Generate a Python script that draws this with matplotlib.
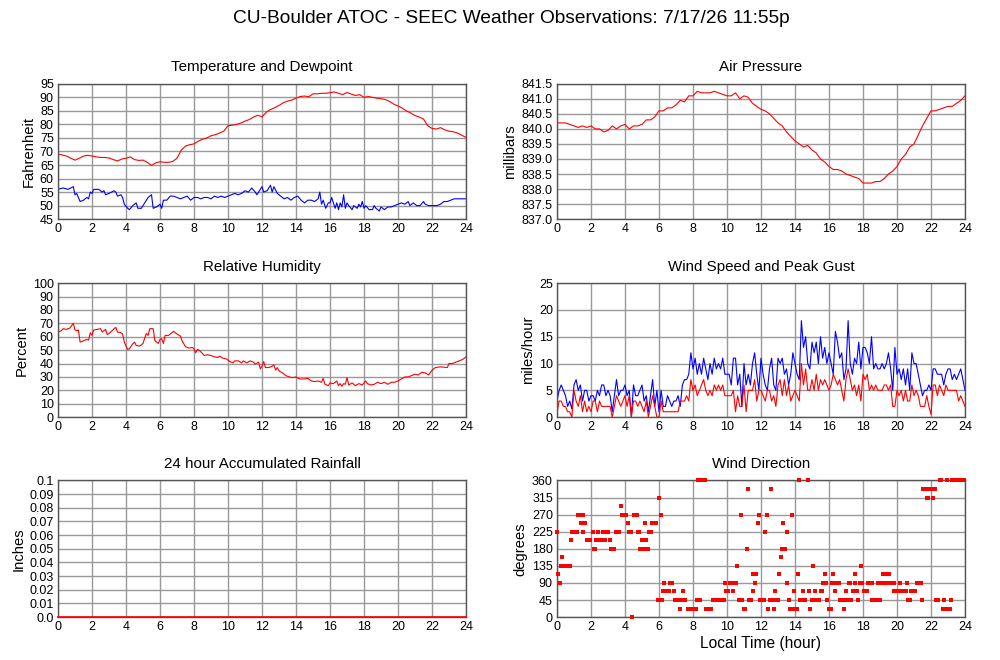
import numpy as np
import matplotlib
matplotlib.use("Agg")
import matplotlib.pyplot as plt

plt.rcParams['font.family'] = ['Liberation Sans', 'DejaVu Sans']

# ---- data ----
# temperature, every 15 minutes
temp_f = [69, 68.7, 68.3, 67.5, 66.8, 67.5, 68.3, 68.6, 68.3, 68, 67.8, 67.8,
          67.6, 67, 66.5, 67.2, 67.5, 68, 67, 66.7, 66.8, 66, 64.8, 65.8,
          66.2, 66, 66, 66.3, 67.5, 70.5, 72, 72.5, 72.8, 73.8, 74.5, 75,
          75.8, 76.2, 76.8, 77.5, 79.5, 79.7, 80, 80.5, 81.2, 81.8, 82.7, 83.4,
          82.8, 84.5, 85.5, 86.2, 87, 88, 88.6, 89, 89.7, 90.3, 90.5, 90.2,
          91.3, 91.3, 91.5, 91.5, 91.7, 92, 91.5, 91, 91.8, 91.2, 90.7, 91,
          90, 90.3, 90, 89.7, 89.5, 89.2, 88.5, 87.5, 86.8, 86, 85, 84.2,
          83.3, 82.7, 82, 79.5, 78.5, 78.3, 78.8, 78, 77.5, 77.3, 76.8, 76,
          75.2]

dewpoint = [(0, 56), (0.3, 56.5), (0.6, 56), (0.9, 57), (1.0, 54), (1.1, 54.5),
            (1.2, 53), (1.3, 51.5), (1.5, 52), (1.7, 53), (1.8, 52.5), (1.9, 55),
            (2.0, 54.5), (2.1, 56), (2.4, 56), (2.6, 55), (2.7, 55.5), (2.8, 54),
            (3.0, 54.5), (3.3, 55.5), (3.4, 55), (3.5, 53.5), (3.7, 54), (3.8, 53),
            (3.9, 50.5), (4.1, 49), (4.2, 48.5), (4.4, 50), (4.6, 51), (4.7, 49),
            (4.9, 49), (5.1, 51), (5.3, 53), (5.5, 54), (5.6, 49), (5.8, 49.5),
            (6.0, 50.5), (6.1, 49), (6.2, 52), (6.4, 52), (6.6, 53.5), (6.8, 53.5),
            (7.0, 53), (7.2, 52.5), (7.4, 53), (7.6, 53.5), (7.8, 52), (8.0, 53),
            (8.2, 53), (8.4, 52.5), (8.6, 53), (8.8, 53), (9.0, 52.5), (9.2, 53.5),
            (9.4, 53), (9.6, 53.5), (9.8, 53), (10.0, 53.5), (10.2, 54), (10.4, 54.5),
            (10.6, 54), (10.8, 54.5), (11.0, 55.5), (11.2, 55), (11.4, 56.5),
            (11.6, 55), (11.7, 54), (11.8, 55), (12.0, 57), (12.1, 55), (12.3, 55.5),
            (12.5, 57.5), (12.6, 55), (12.7, 57), (12.9, 54.5), (13.1, 53.5),
            (13.3, 52.5), (13.5, 53), (13.7, 52), (13.9, 53), (14.1, 53.5),
            (14.3, 52), (14.5, 51), (14.7, 52), (14.9, 52), (15.1, 51.5),
            (15.3, 52.5), (15.4, 55), (15.5, 50.5), (15.6, 52), (15.75, 49),
            (15.9, 51), (16.0, 51), (16.1, 53), (16.3, 49), (16.4, 51), (16.5, 48.5),
            (16.6, 51), (16.7, 49.5), (16.8, 54), (16.9, 49), (17.0, 51), (17.1, 50),
            (17.3, 48.5), (17.4, 50), (17.6, 49), (17.7, 50.5), (17.8, 49.5),
            (17.9, 51.5), (18.0, 49), (18.1, 50), (18.3, 48.5), (18.5, 48.5),
            (18.6, 50), (18.7, 49), (18.9, 48), (19.0, 49.5), (19.2, 48.5),
            (19.4, 49.5), (19.6, 49.5), (19.8, 50), (20.0, 50.5), (20.2, 51),
            (20.4, 50.5), (20.6, 51.5), (20.7, 50), (20.9, 51), (21.1, 50),
            (21.3, 50), (21.5, 51.5), (21.6, 50.5), (21.8, 50), (22.0, 50),
            (22.3, 50), (22.5, 50.5), (22.7, 51.5), (22.9, 51.5), (23.1, 52),
            (23.3, 52.5), (23.5, 52.5), (23.7, 52.5), (24.0, 52.5)]

# pressure, every 15 minutes
pressure_mb = [840.2, 840.2, 840.2, 840.15, 840.1, 840.05, 840.1, 840.05, 840.1,
               840.0, 840.0, 839.9, 839.95, 840.1, 840.0, 840.1, 840.15, 840.0,
               840.1, 840.1, 840.15, 840.3, 840.3, 840.4, 840.6, 840.6, 840.7,
               840.7, 840.8, 840.95, 840.9, 841.1, 841.1, 841.25, 841.2, 841.2,
               841.2, 841.25, 841.2, 841.15, 841.1, 841.1, 841.2, 841.0, 841.1,
               841.05, 840.85, 840.75, 840.65, 840.6, 840.5, 840.35, 840.2, 840.1,
               839.9, 839.75, 839.6, 839.5, 839.4, 839.45, 839.3, 839.2, 839.0,
               838.9, 838.75, 838.65, 838.65, 838.6, 838.5, 838.45, 838.4, 838.35,
               838.2, 838.2, 838.2, 838.25, 838.25, 838.35, 838.5, 838.6, 838.75,
               839.0, 839.15, 839.4, 839.5, 839.8, 840.1, 840.35, 840.6, 840.6,
               840.65, 840.7, 840.75, 840.75, 840.85, 840.95, 841.1]

humidity = [(0, 63.5), (0.2, 64.5), (0.3, 66), (0.5, 65.5), (0.7, 66.5), (0.9, 70),
            (1.0, 65), (1.1, 64.5), (1.2, 65), (1.3, 56), (1.5, 57), (1.7, 58),
            (1.8, 57.5), (1.9, 63), (2.0, 61), (2.1, 65), (2.3, 65.5), (2.5, 66),
            (2.6, 63.5), (2.8, 65.5), (2.9, 61.5), (3.1, 63.5), (3.3, 66), (3.4, 67),
            (3.5, 63.5), (3.7, 63), (3.8, 62), (3.9, 56), (4.0, 53), (4.1, 50.5),
            (4.2, 51), (4.35, 54), (4.5, 56), (4.6, 53.5), (4.8, 53), (5.0, 55),
            (5.1, 59), (5.2, 62.5), (5.3, 61), (5.4, 66), (5.6, 66), (5.7, 57),
            (5.8, 56), (5.9, 55), (6.0, 58), (6.1, 58.5), (6.2, 55), (6.3, 61),
            (6.5, 61), (6.6, 62), (6.8, 64), (7.0, 62), (7.2, 60.5), (7.3, 57),
            (7.5, 52.5), (7.7, 51.5), (7.9, 52), (8.0, 51), (8.1, 48), (8.2, 50.5),
            (8.3, 50), (8.5, 47.5), (8.6, 46), (8.8, 46.5), (9.0, 46), (9.2, 45),
            (9.4, 44.5), (9.5, 45.5), (9.7, 44), (9.9, 43.5), (10.1, 41.5),
            (10.3, 40.5), (10.4, 42), (10.6, 42), (10.8, 40.5), (10.9, 42),
            (11.1, 40.5), (11.3, 42), (11.5, 41), (11.6, 39.5), (11.8, 41),
            (11.9, 36), (12.0, 38), (12.1, 41.5), (12.2, 37), (12.4, 37),
            (12.6, 38), (12.7, 39), (12.8, 35), (12.9, 37), (13.0, 34.5),
            (13.2, 33), (13.4, 31), (13.6, 30), (13.8, 29.5), (14.0, 30),
            (14.2, 28.5), (14.5, 28.5), (14.7, 29), (14.9, 27), (15.1, 26.5),
            (15.3, 27), (15.5, 26), (15.6, 29), (15.7, 24.5), (15.9, 23.5),
            (16.0, 25.5), (16.2, 25), (16.4, 27), (16.5, 23.5), (16.6, 25),
            (16.7, 23), (16.8, 25), (16.9, 24.5), (17.0, 29.5), (17.1, 24),
            (17.3, 25.5), (17.5, 23.5), (17.7, 25), (17.9, 24), (18.1, 27),
            (18.2, 25), (18.4, 24), (18.6, 24.5), (18.8, 26), (19.0, 25),
            (19.2, 26), (19.4, 24.5), (19.6, 26), (19.8, 26), (20.0, 27),
            (20.2, 28.5), (20.4, 30), (20.6, 30), (20.8, 31), (21.0, 32),
            (21.2, 31.5), (21.4, 33.5), (21.6, 33), (21.8, 31.5), (22.0, 35),
            (22.2, 37), (22.5, 37.5), (22.9, 37), (23.0, 40), (23.2, 40),
            (23.4, 41), (23.6, 42), (23.8, 43), (24.0, 45)]

# wind, every 7.5 minutes (8 per hour), last value at 24:00
wind_gust = [3, 5, 6, 5, 4, 2, 3, 1.5,
             6, 7, 5, 6, 3, 5, 5, 3,
             4, 4, 3, 5, 4, 6, 6, 4,
             5, 4, 1, 4, 7, 4, 5, 5,
             6, 4, 5, 0, 6, 4, 4, 5,
             6, 3, 4, 1, 4, 7, 2, 5,
             1, 5, 2, 2, 4, 3, 2, 3,
             3, 4, 2, 6, 7, 7, 8, 12,
             9, 11, 8, 10, 8, 11, 9, 7,
             10, 8, 11, 9, 10, 9, 11, 8,
             8, 8, 6, 11, 11, 6, 8, 2,
             10, 6, 8, 6, 10, 12, 8, 5,
             11, 8, 6, 5, 9, 11, 6, 5,
             11, 10, 11, 8, 9, 6, 8, 12,
             10, 8, 7, 18, 13, 15, 10, 9,
             14, 12, 14, 10, 15, 11, 13, 10,
             12, 10, 8, 16, 14, 11, 12, 7,
             9, 18, 10, 8, 11, 10, 14, 9,
             13, 13, 12, 10, 15, 9, 10, 9,
             9, 10, 9, 10, 12, 9, 5, 13,
             8, 9, 7, 9, 6, 9, 5, 12,
             10, 10, 8, 6, 4, 5, 5, 6,
             5, 9, 9, 8, 8, 8, 6, 8,
             9, 9, 7, 8, 7, 8, 9, 7,
             5]
wind_speed = [1, 3, 3, 2, 2, 1, 1, 0,
              5, 3, 2, 4, 1, 3, 1, 2,
              1, 3, 3, 1, 3, 2, 2, 2,
              2, 2, 0, 2, 4, 3, 2, 3,
              4, 2, 4, 0, 3, 3, 2, 3,
              2, 1, 3, 0, 2, 4, 2, 0,
              0, 3, 1, 1, 1, 1, 1, 1,
              1, 1, 3, 3, 3, 4, 3, 7,
              5, 6, 4, 5, 6, 7, 5, 4,
              5, 4, 6, 5, 6, 5, 6, 4,
              4, 4, 4, 5, 1, 4, 2, 2,
              6, 1, 5, 5, 5, 7, 3, 5,
              5, 4, 3, 5, 5, 3, 4, 2,
              6, 7, 4, 7, 4, 6, 3, 4,
              5, 4, 3, 10, 6, 9, 5, 5,
              7, 5, 8, 5, 7, 6, 7, 6,
              5, 6, 8, 7, 6, 7, 5, 3,
              7, 9, 7, 5, 6, 4, 6, 3,
              8, 7, 8, 5, 6, 5, 6, 5,
              5, 5, 6, 6, 5, 6, 2, 2,
              5, 4, 5, 3, 5, 3, 3, 6,
              4, 5, 4, 2, 2, 2, 4, 2,
              0.5, 6, 6, 4, 6, 5, 4, 6,
              5, 5, 5, 5, 5, 3, 4, 3,
              2]

wind_dir = [(0.0, 225), (0.05, 112.5), (0.15, 90), (0.25, 135), (0.3, 157.5),
            (0.45, 135), (0.55, 135), (0.65, 135), (0.75, 135), (0.8, 202.5),
            (0.9, 225), (1.0, 225), (1.1, 225), (1.15, 225), (1.25, 270), (1.35, 270),
            (1.4, 247.5), (1.5, 270), (1.55, 225), (1.65, 247.5), (1.75, 202.5),
            (1.85, 202.5), (1.95, 202.5), (2.1, 225), (2.15, 180), (2.25, 180),
            (2.3, 202.5), (2.4, 225), (2.5, 202.5), (2.6, 202.5), (2.7, 225),
            (2.8, 225), (2.85, 202.5), (2.95, 225), (3.0, 225), (3.1, 202.5),
            (3.15, 180), (3.25, 180), (3.35, 180), (3.45, 225), (3.55, 225),
            (3.65, 225), (3.75, 292.5), (3.85, 270), (3.95, 270), (4.05, 270),
            (4.15, 247.5), (4.25, 225), (4.35, 225), (4.4, 0), (4.5, 270), (4.6, 270),
            (4.7, 270), (4.75, 225), (4.85, 225), (4.9, 180), (5.0, 202.5), (5.1, 180),
            (5.15, 247.5), (5.25, 202.5), (5.35, 180), (5.4, 225), (5.5, 225),
            (5.6, 247.5), (5.7, 247.5), (5.8, 247.5), (5.95, 45), (6.0, 315),
            (6.1, 270), (6.15, 45), (6.25, 67.5), (6.3, 90), (6.4, 67.5), (6.5, 67.5),
            (6.6, 67.5), (6.65, 90), (6.75, 90), (6.9, 67.5), (6.95, 45), (7.05, 45),
            (7.15, 45), (7.25, 22.5), (7.3, 45), (7.4, 67.5), (7.45, 45), (7.55, 45),
            (7.7, 22.5), (7.8, 22.5), (7.9, 22.5), (8.0, 22.5), (8.1, 22.5),
            (8.2, 22.5), (8.25, 45), (8.3, 360), (8.4, 45), (8.5, 360), (8.6, 360),
            (8.7, 360), (8.75, 22.5), (8.85, 22.5), (8.95, 22.5), (9.05, 22.5),
            (9.15, 45), (9.25, 45), (9.35, 45), (9.45, 45), (9.55, 45), (9.65, 45),
            (9.75, 45), (9.85, 45), (9.9, 90), (9.95, 67.5), (10.05, 67.5),
            (10.15, 90), (10.25, 90), (10.35, 67.5), (10.4, 90), (10.5, 90),
            (10.6, 135), (10.7, 45), (10.8, 270), (10.9, 45), (11.0, 22.5),
            (11.05, 22.5), (11.15, 180), (11.25, 337.5), (11.3, 45), (11.4, 45),
            (11.5, 112.5), (11.55, 67.5), (11.65, 90), (11.7, 112.5), (11.8, 247.5),
            (11.9, 270), (11.95, 45), (12.05, 45), (12.15, 45), (12.25, 225),
            (12.35, 270), (12.4, 22.5), (12.5, 45), (12.6, 337.5), (12.65, 45),
            (12.75, 22.5), (12.8, 67.5), (12.9, 45), (13.0, 45), (13.05, 112.5),
            (13.15, 157.5), (13.25, 180), (13.3, 247.5), (13.4, 180), (13.5, 225),
            (13.55, 90), (13.65, 45), (13.72, 22.5), (13.8, 270), (13.85, 22.5),
            (13.95, 67.5), (14.0, 22.5), (14.1, 22.5), (14.15, 112.5), (14.25, 360),
            (14.3, 45), (14.4, 45), (14.45, 67.5), (14.55, 45), (14.6, 45),
            (14.75, 360), (14.8, 67.5), (14.9, 22.5), (15.0, 45), (15.05, 135),
            (15.15, 67.5), (15.2, 45), (15.3, 45), (15.4, 45), (15.5, 67.5),
            (15.6, 67.5), (15.65, 90), (15.75, 112.5), (15.8, 90), (15.9, 45),
            (16.0, 22.5), (16.1, 22.5), (16.2, 90), (16.25, 112.5), (16.35, 67.5),
            (16.4, 90), (16.5, 90), (16.6, 90), (16.65, 45), (16.75, 45), (16.8, 45),
            (16.9, 22.5), (17.0, 67.5), (17.05, 45), (17.15, 90), (17.25, 90),
            (17.3, 45), (17.4, 67.5), (17.5, 112.5), (17.55, 90), (17.65, 67.5),
            (17.7, 45), (17.8, 90), (17.9, 135), (17.95, 90), (18.05, 67.5),
            (18.15, 67.5), (18.25, 67.5), (18.3, 90), (18.4, 90), (18.5, 90),
            (18.55, 45), (18.65, 45), (18.75, 45), (18.85, 45), (18.9, 90), (19.0, 45),
            (19.05, 90), (19.15, 90), (19.2, 112.5), (19.25, 90), (19.3, 112.5),
            (19.4, 112.5), (19.45, 90), (19.5, 112.5), (19.6, 90), (19.7, 90),
            (19.8, 90), (19.85, 67.5), (19.95, 67.5), (20.05, 67.5), (20.15, 90),
            (20.25, 67.5), (20.35, 67.5), (20.45, 67.5), (20.55, 67.5), (20.6, 90),
            (20.65, 45), (20.75, 45), (20.85, 67.5), (20.95, 67.5), (21.05, 67.5),
            (21.2, 90), (21.3, 90), (21.4, 90), (21.45, 45), (21.5, 337.5),
            (21.6, 337.5), (21.7, 337.5), (21.75, 315), (21.85, 315), (21.92, 337.5),
            (22.0, 337.5), (22.1, 315), (22.15, 337.5), (22.25, 337.5), (22.3, 45),
            (22.4, 45), (22.5, 360), (22.6, 360), (22.7, 22.5), (22.75, 45),
            (22.8, 22.5), (22.9, 22.5), (22.95, 360), (23.0, 22.5), (23.1, 22.5),
            (23.15, 45), (23.25, 360), (23.35, 360), (23.45, 360), (23.55, 360),
            (23.65, 360), (23.75, 360), (23.85, 360), (23.95, 360)]

rain_hours = [0, 24]
rain_in = [0.0, 0.0]

hour_ticks = list(range(0, 25, 2))
RED = '#ff0000'
BLUE = '#0000ff'


def style(ax, yticks, ylabels, title, ylabel):
    ax.set_xlim(0, 24)
    ax.set_ylim(yticks[0], yticks[-1])
    ax.set_xticks(hour_ticks)
    ax.set_yticks(yticks)
    ax.set_yticklabels(ylabels)
    ax.grid(True, color='#999999', linewidth=1.0)
    ax.set_axisbelow(True)
    ax.tick_params(length=0, labelsize=9, pad=3)
    for s in ax.spines.values():
        s.set_color('#555555')
        s.set_linewidth(1.0)
    ax.set_title(title, fontsize=10.9, pad=9)
    ax.set_ylabel(ylabel, fontsize=10.6, labelpad=3)


fig = plt.figure(figsize=(10, 6.6), dpi=100)
fig.suptitle('CU-Boulder ATOC - SEEC Weather Observations: 7/17/26 11:55p',
             fontsize=13.8, x=0.511, y=0.985)

L1, L2, W = 0.058, 0.557, 0.408
rows = [(0.668, 0.205), (0.368, 0.203), (0.065, 0.207)]

# temperature and dewpoint
ax = fig.add_axes([L1, rows[0][0], W, rows[0][1]])
t15 = np.linspace(0, 24, len(temp_f))
ax.plot(t15, temp_f, color=RED, lw=0.8)
ax.plot([p[0] for p in dewpoint], [p[1] for p in dewpoint], color=BLUE, lw=0.8)
yt = list(range(45, 96, 5))
style(ax, yt, [str(v) for v in yt], 'Temperature and Dewpoint', 'Fahrenheit')

# pressure
ax = fig.add_axes([L2, rows[0][0], W, rows[0][1]])
ax.plot(np.linspace(0, 24, len(pressure_mb)), pressure_mb, color=RED, lw=0.8)
yt = [837.0 + 0.5 * i for i in range(10)]
style(ax, yt, ['%.1f' % v for v in yt], 'Air Pressure', 'millibars')

# humidity
ax = fig.add_axes([L1, rows[1][0], W, rows[1][1]])
ax.plot([p[0] for p in humidity], [p[1] for p in humidity], color=RED, lw=0.8)
yt = list(range(0, 101, 10))
style(ax, yt, [str(v) for v in yt], 'Relative Humidity', 'Percent')

# wind speed and gust
ax = fig.add_axes([L2, rows[1][0], W, rows[1][1]])
tw = np.linspace(0, 24, len(wind_gust))
ax.plot(tw, wind_gust, color=BLUE, lw=0.8)
ax.plot(tw, wind_speed, color=RED, lw=0.8)
yt = list(range(0, 26, 5))
style(ax, yt, [str(v) for v in yt], 'Wind Speed and Peak Gust', 'miles/hour')

# rainfall
ax = fig.add_axes([L1, rows[2][0], W, rows[2][1]])
ax.plot(rain_hours, rain_in, color=RED, lw=1.2, clip_on=False, zorder=5)
yt = [0.01 * i for i in range(11)]
ylab = ['0.0'] + ['%.2f' % v for v in yt[1:10]] + ['0.1']
style(ax, yt, ylab, '24 hour Accumulated Rainfall', 'Inches')

# wind direction
ax = fig.add_axes([L2, rows[2][0], W, rows[2][1]])
ax.plot([p[0] for p in wind_dir], [p[1] for p in wind_dir], 's', color=RED,
        markersize=2.3, markeredgewidth=0, clip_on=False, zorder=3)
yt = list(range(0, 361, 45))
style(ax, yt, [str(v) for v in yt], 'Wind Direction', 'degrees')
ax.set_xlabel('Local Time (hour)', fontsize=11.2, labelpad=2)

fig.savefig('out.png', dpi=100)
